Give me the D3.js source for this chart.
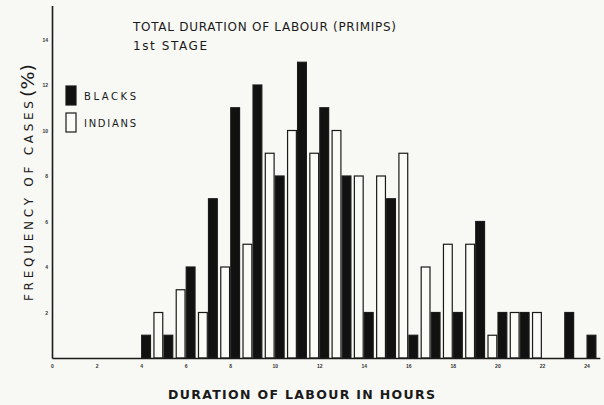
<!DOCTYPE html>
<html>
<head>
<meta charset="utf-8">
<script src="https://cdn.jsdelivr.net/npm/d3@7"></script>
<style>
  body { margin: 0; background: #f8f8f5; }
  svg { display: block; font-family: "DejaVu Sans", sans-serif; }
</style>
</head>
<body>
<div></div>
<script>
'use strict';

// Data (% of cases per hour of labour)
var hours   = [4, 5, 6, 7, 8, 9, 10, 11, 12, 13, 14, 15, 16, 17, 18, 19, 20, 21, 22, 23, 24];
var blacks  = [1, 1, 4, 7, 11, 12, 8, 13, 11, 8, 2, 7, 1, 2, 2, 6, 2, 2, 0, 2, 1];
var indians = [0, 2, 3, 2, 4, 5, 9, 10, 9, 10, 8, 8, 9, 4, 5, 5, 1, 2, 2, 0, 0];
var xTicks  = [0, 2, 4, 6, 8, 10, 12, 14, 16, 18, 20, 22, 24];
var yTicks  = [2, 4, 6, 8, 10, 12, 14];
var series  = ["INDIANS", "BLACKS"];

var svgWidth = 604;
var svgHeight = 405;
var ink = "#1a1a1a";

var rows = hours.map(function(h, i) {
  return {hour: h, BLACKS: blacks[i], INDIANS: indians[i]};
});

// Scales
var xScale = d3.scaleLinear()
    .domain([0, 24.6])
    .range([52, 52 + 24.6 * 22.27]);

var sub = d3.scaleBand()
    .domain(series)
    .range([-10, 10]);

var yScale = d3.scaleLinear()
    .domain([0, 15.5])
    .range([358, 358 - 15.5 * 22.75]);

var svg = d3.select("body").select("div")
  .append("svg")
    .attr("width", svgWidth)
    .attr("height", svgHeight);

svg.append("rect")
    .attr("width", svgWidth)
    .attr("height", svgHeight)
    .attr("fill", "#f8f8f5");

// Bars
var groups = svg.append("g").selectAll("g")
  .data(rows)
  .enter().append("g")
    .attr("transform", function(d) { return "translate(" + xScale(d.hour) + ",0)"; });

groups.selectAll("rect")
  .data(function(d) {
    return series.map(function(s) { return {key: s, value: d[s]}; })
      .filter(function(e) { return e.value > 0; });
  })
  .enter().append("rect")
    .attr("x", function(d) { return sub(d.key) + 0.6; })
    .attr("y", function(d) { return yScale(d.value); })
    .attr("width", sub.bandwidth() - 1.2)
    .attr("height", function(d) { return yScale(0) - yScale(d.value); })
    .attr("fill", function(d) { return d.key === "BLACKS" ? "#111" : "#fbfbf8"; })
    .attr("stroke", ink)
    .attr("stroke-width", 1.2);

// Axes
var xAxis = svg.append("g")
    .attr("transform", "translate(0," + yScale(0) + ")")
    .call(d3.axisBottom(xScale).tickValues(xTicks).tickSize(0).tickPadding(6));

var yAxis = svg.append("g")
    .attr("transform", "translate(" + xScale(0) + ",0)")
    .call(d3.axisLeft(yScale).tickValues(yTicks).tickSize(0).tickPadding(4));

[xAxis, yAxis].forEach(function(ax) {
  ax.select(".domain").attr("stroke", ink).attr("stroke-width", 1.6);
  ax.selectAll("text")
    .attr("fill", "#333")
    .style("font-size", "5px")
    .style("font-weight", "bold");
});

// Title
svg.append("text")
    .attr("x", 133).attr("y", 31)
    .attr("textLength", 263).attr("lengthAdjust", "spacing")
    .style("font-size", "12px")
    .attr("fill", ink)
    .text("TOTAL DURATION OF LABOUR (PRIMIPS)");

svg.append("text")
    .attr("x", 133).attr("y", 50)
    .attr("textLength", 74).attr("lengthAdjust", "spacing")
    .style("font-size", "12px")
    .attr("fill", ink)
    .text("1st STAGE");

// Legend
var legend = svg.append("g");
legend.selectAll("rect")
  .data(["BLACKS", "INDIANS"])
  .enter().append("rect")
    .attr("x", 66)
    .attr("y", function(d, i) { return 86 + i * 27; })
    .attr("width", 10)
    .attr("height", 19)
    .attr("fill", function(d) { return d === "BLACKS" ? "#111" : "#fbfbf8"; })
    .attr("stroke", ink)
    .attr("stroke-width", 1.2);

legend.selectAll("text")
  .data(["BLACKS", "INDIANS"])
  .enter().append("text")
    .attr("x", 84)
    .attr("y", function(d, i) { return 100 + i * 27; })
    .attr("textLength", 52)
    .attr("lengthAdjust", "spacing")
    .style("font-size", "10px")
    .attr("fill", ink)
    .text(function(d) { return d; });

// Axis titles
svg.append("text")
    .attr("x", 168).attr("y", 399)
    .attr("textLength", 267).attr("lengthAdjust", "spacing")
    .style("font-size", "12.5px")
    .style("font-weight", "bold")
    .attr("fill", ink)
    .text("DURATION OF LABOUR IN HOURS");

svg.append("text")
    .attr("transform", "translate(33,301) rotate(-90)")
    .attr("textLength", 200).attr("lengthAdjust", "spacing")
    .style("font-size", "12px")
    .attr("fill", ink)
    .text("FREQUENCY OF CASES");

svg.append("text")
    .attr("transform", "translate(34,97) rotate(-90)")
    .attr("textLength", 33).attr("lengthAdjust", "spacingAndGlyphs")
    .style("font-size", "17px")
    .attr("fill", ink)
    .text("(%)");
</script>
</body>
</html>
